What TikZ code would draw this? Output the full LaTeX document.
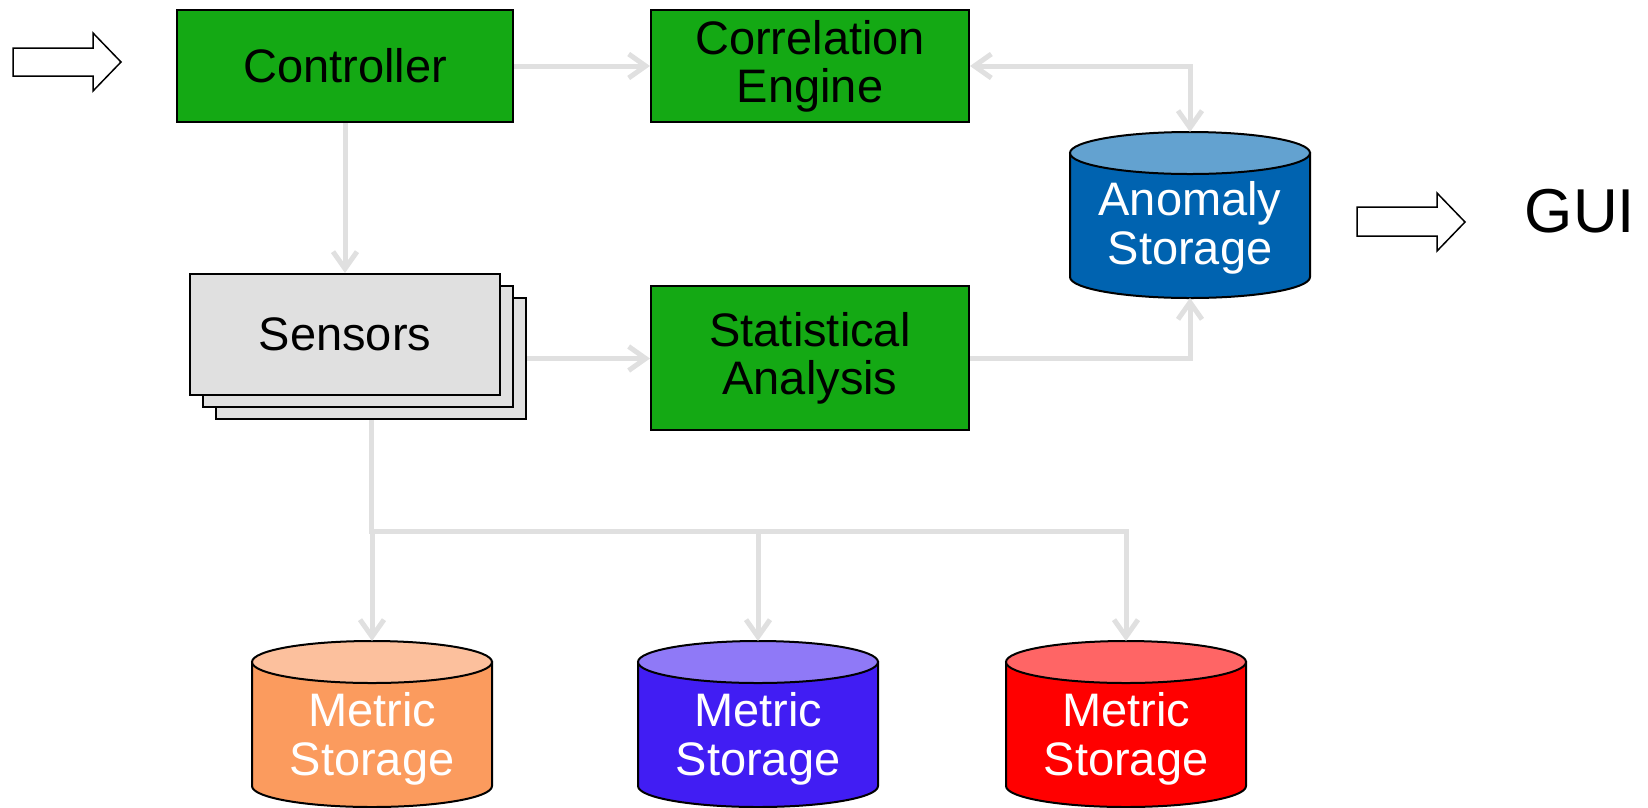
\documentclass[tikz,border=0pt]{standalone}
\usepackage{fontspec}
\setmainfont{Liberation Sans}
\usetikzlibrary{arrows.meta}
\definecolor{boxgreen}{HTML}{14A914}
\definecolor{sensgray}{HTML}{E0E0E0}
\definecolor{conngray}{HTML}{E0E0E0}
\definecolor{anombody}{HTML}{0063B0}
\definecolor{anomtop}{HTML}{63A2D0}
\definecolor{orgbody}{HTML}{FB9B5E}
\definecolor{orgtop}{HTML}{FCC09D}
\definecolor{blubody}{HTML}{411DF3}
\definecolor{blutop}{HTML}{8F79F7}
\definecolor{redbody}{HTML}{FF0000}
\definecolor{redtop}{HTML}{FF6565}
\newcommand\drawdb[5]{%
  \pgfmathsetmacro\dbL{#1-120}\pgfmathsetmacro\dbR{#1+120}%
  \pgfmathsetmacro\dbT{#2+21}\pgfmathsetmacro\dbB{#3-21}%
  \pgfmathsetmacro\dbBk{#3-21+11.6}%
  \pgfmathsetmacro\dbCl{#1-66.3}\pgfmathsetmacro\dbCr{#1+66.3}%
  \filldraw[fill=#4, draw=black, line width=2pt] (\dbL,\dbT) -- (\dbL,\dbB) .. controls (\dbL,\dbBk) and (\dbCl,#3) .. (#1,#3) .. controls (\dbCr,#3) and (\dbR,\dbBk) .. (\dbR,\dbB) -- (\dbR,\dbT) -- cycle;
  \filldraw[fill=#5, draw=black, line width=2pt] (#1,\dbT) ellipse [x radius=120pt, y radius=21pt];
}
\begin{document}
\begin{tikzpicture}[x=1pt,y=-1pt,
  >={Straight Barb[length=17pt,width=24pt]},
  bigfont/.style={font=\fontsize{47}{48}\selectfont},
  greenbox/.style={draw=black, line width=2pt, fill=boxgreen, inner sep=0pt, align=center, bigfont},
  sensbox/.style={draw=black, line width=2pt, fill=sensgray, inner sep=0pt, minimum width=310pt, minimum height=121pt, align=center, bigfont},
  dbnode/.style={draw=none, inner sep=0pt, outer sep=0pt, minimum width=240pt},
  dbtext/.style={text=white, align=center, font=\fontsize{47}{48.5}\selectfont},
  conn/.style={draw=conngray, line width=5pt, ->},
  biconn/.style={draw=conngray, line width=5pt, <->},
  blockarrow/.style={draw=black, line width=1.5pt, fill=white}
]
\useasboundingbox (0,0) rectangle (1648,807);

% block arrows
\draw[blockarrow] (13,48) -- (93,48) -- (93,33) -- (121,62) -- (93,91) -- (93,76) -- (13,76) -- cycle;
\draw[blockarrow] (1357,207) -- (1437,207) -- (1437,193) -- (1465,222) -- (1437,251) -- (1437,236) -- (1357,236) -- cycle;

% green boxes
\node[greenbox, minimum width=336pt, minimum height=112pt] (ctrl) at (345,66) {Controller};
\node[greenbox, minimum width=318pt, minimum height=112pt] (corr) at (810,66) {Correlation\\Engine};
\node[greenbox, minimum width=318pt, minimum height=144pt] (stat) at (810,358) {Statistical\\Analysis};

% sensors stack
\node[sensbox] (sback) at (371,358.5) {};
\node[sensbox] (smid) at (358,346.5) {};
\node[sensbox] (sfront) at (345,334.5) {Sensors};

% cylinders
\drawdb{1190}{132}{298}{anombody}{anomtop}
\node[dbnode, minimum height=166pt] (anom) at (1190,215) {};
\node[dbtext] (anomtxt) at (1190,228) {Anomaly\\Storage};

\drawdb{372}{641}{807}{orgbody}{orgtop}
\node[dbnode, minimum height=166pt] (m1) at (372,724) {};
\node[dbtext] (m1txt) at (372,739) {Metric\\Storage};

\drawdb{758}{641}{807}{blubody}{blutop}
\node[dbnode, minimum height=166pt] (m2) at (758,724) {};
\node[dbtext] (m2txt) at (758,739) {Metric\\Storage};

\drawdb{1126}{641}{807}{redbody}{redtop}
\node[dbnode, minimum height=166pt] (m3) at (1126,724) {};
\node[dbtext] (m3txt) at (1126,739) {Metric\\Storage};

% GUI
\node[font=\fontsize{62}{62}\selectfont, anchor=base, inner sep=0pt] (gui) at (1580,232) {GUI};

% connectors
\coordinate (bus) at (372,531);
\draw[conn] (ctrl.east) -- (corr.west);
\draw[conn] (ctrl.south) -- (sfront.north);
\draw[conn] (sback.east) -- (sback.east -| stat.west);
\draw[conn] (stat.east) -| (anom.south);
\draw[biconn] (corr.east) -| (anom.north);
\draw[conn] (sback.south) |- (m3.north |- bus) -- (m3.north);
\draw[conn] (m1.north |- bus) -- (m1.north);
\draw[conn] (m2.north |- bus) -- (m2.north);
\end{tikzpicture}
\end{document}
